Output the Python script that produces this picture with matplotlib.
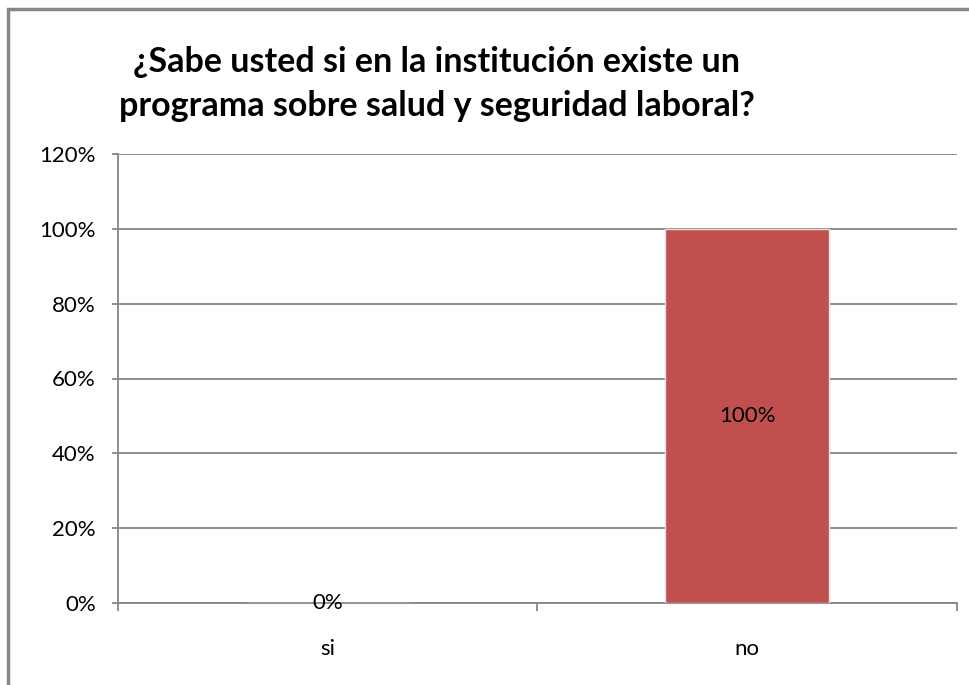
import matplotlib
matplotlib.use("Agg")
import matplotlib.pyplot as plt
from matplotlib.patches import Rectangle
from matplotlib.ticker import FixedLocator, PercentFormatter

categories = ["si", "no"]
values = [0, 100]
labels = ["0%", "100%"]
yticks = [0, 20, 40, 60, 80, 100, 120]
title = "¿Sabe usted si en la institución existe un\nprograma sobre salud y seguridad laboral?"

plt.rcParams['font.family'] = ['Lato', 'DejaVu Sans']

fig = plt.figure(figsize=(9.7, 6.85), dpi=100)
W, H = 970, 685
ax = fig.add_axes([118 / W, 1 - 603 / H, (957 - 118) / W, (603 - 154) / H])

gray = "#868686"
fs = 16
x = list(range(len(categories)))
bars = ax.bar(x, values, width=0.39, color="#C0504D", edgecolor="#f2dcdb", linewidth=1.0, zorder=3)

ax.set_xlim(-0.5, len(categories) - 0.5)
ax.set_ylim(0, 120)
ax.set_yticks(yticks)
ax.yaxis.set_major_formatter(PercentFormatter(decimals=0))
ax.grid(axis="y", color=gray, linewidth=1.3, zorder=0)
ax.set_axisbelow(True)

ax.set_xticks(x)
ax.set_xticklabels(categories)
ax.xaxis.set_minor_locator(FixedLocator([i - 0.5 for i in range(len(categories) + 1)]))
ax.tick_params(axis="x", which="major", length=0, pad=26, labelsize=fs)
ax.tick_params(axis="x", which="minor", length=6, width=1.3, color=gray)
ax.tick_params(axis="y", length=4, width=1.3, color=gray, labelsize=fs, pad=12)

for s in ["top", "right"]:
    ax.spines[s].set_visible(False)
for s in ["left", "bottom"]:
    ax.spines[s].set_color(gray)
    ax.spines[s].set_linewidth(1.3)

for xi, v, lab in zip(x, values, labels):
    ax.text(xi, v / 2, lab, ha="center", va="center", fontsize=fs, zorder=4)

fig.text(437 / W, 1 - 84 / H, title, ha="center", va="center", fontsize=24.5,
         fontweight="bold", linespacing=1.5)

fig.patches.append(Rectangle((8 / W, -0.1), 1.2, 1 - 9 / H + 0.1, transform=fig.transFigure,
                             fill=False, edgecolor=gray, linewidth=2.5))

fig.savefig("out.png", dpi=100)
